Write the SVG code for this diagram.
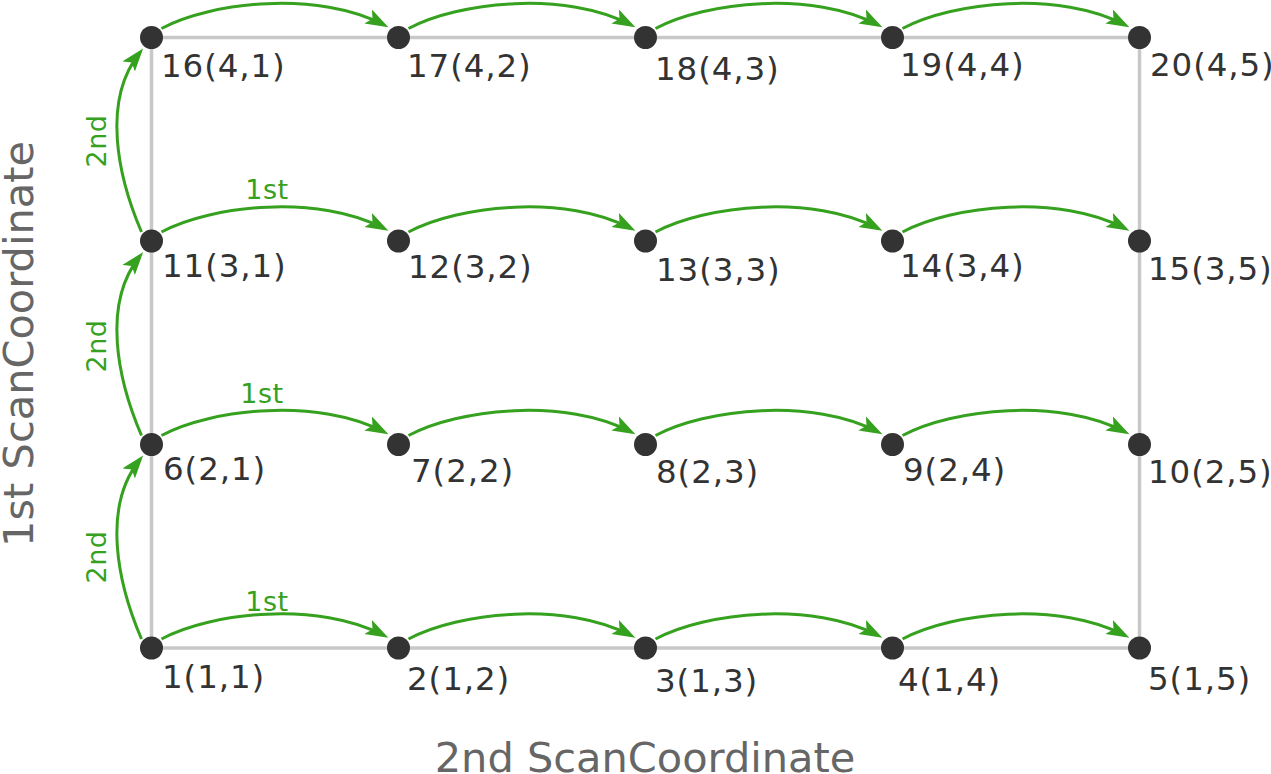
<svg xmlns="http://www.w3.org/2000/svg" width="1271" height="774" viewBox="0 0 1271 774">
<style>
.grid{fill:none;stroke:#c8c8c8;stroke-width:3.5}
.node circle{fill:#333}
.node text{font-family:"DejaVu Sans",sans-serif;font-size:32.5px;fill:#333;letter-spacing:0.9px}
.arc{fill:none;stroke:#36a11f;stroke-width:3;marker-end:url(#ah)}
.lbl{font-family:"DejaVu Sans",sans-serif;font-size:27px;fill:#36a11f;text-anchor:middle;letter-spacing:0.5px}
.axis{font-family:"DejaVu Sans",sans-serif;font-size:41.5px;fill:#666;text-anchor:middle}
</style>
<defs>
<marker id="ah" markerUnits="userSpaceOnUse" markerWidth="26" markerHeight="18" refX="18" refY="8" orient="auto">
<path d="M0,0 L23,8 L0,16 L5,8 z" fill="#36a11f"/>
</marker>
</defs>
<rect class="grid" x="151.5" y="37.5" width="988" height="610.5"/>
<g id="connectors">
<path class="arc" d="M161.5,639 C211.5,612 319.5,601 384,635.5"/>
<path class="arc" d="M408.5,639 C458.5,612 566.5,601 631,635.5"/>
<path class="arc" d="M655.5,639 C705.5,612 813.5,601 878,635.5"/>
<path class="arc" d="M902.5,639 C952.5,612 1060.5,601 1125,635.5"/>
<path class="arc" d="M161.5,435.5 C211.5,408.5 319.5,397.5 384,432"/>
<path class="arc" d="M408.5,435.5 C458.5,408.5 566.5,397.5 631,432"/>
<path class="arc" d="M655.5,435.5 C705.5,408.5 813.5,397.5 878,432"/>
<path class="arc" d="M902.5,435.5 C952.5,408.5 1060.5,397.5 1125,432"/>
<path class="arc" d="M161.5,232 C211.5,205 319.5,194 384,228.5"/>
<path class="arc" d="M408.5,232 C458.5,205 566.5,194 631,228.5"/>
<path class="arc" d="M655.5,232 C705.5,205 813.5,194 878,228.5"/>
<path class="arc" d="M902.5,232 C952.5,205 1060.5,194 1125,228.5"/>
<path class="arc" d="M161.5,28.5 C211.5,1.5 319.5,-9.5 384,25"/>
<path class="arc" d="M408.5,28.5 C458.5,1.5 566.5,-9.5 631,25"/>
<path class="arc" d="M655.5,28.5 C705.5,1.5 813.5,-9.5 878,25"/>
<path class="arc" d="M902.5,28.5 C952.5,1.5 1060.5,-9.5 1125,25"/>
<path class="arc" d="M141.5,639 C117.5,583 101.5,507 140,459.5"/>
<path class="arc" d="M141.5,435.5 C117.5,379.5 101.5,303.5 140,256"/>
<path class="arc" d="M141.5,232 C117.5,176 101.5,100 140,52.5"/>
<text class="lbl" x="267" y="610.7">1st</text>
<text class="lbl" x="262" y="402.7">1st</text>
<text class="lbl" x="267" y="199.3">1st</text>
<text class="lbl" transform="translate(106,557) rotate(-90)">2nd</text>
<text class="lbl" transform="translate(106,346) rotate(-90)">2nd</text>
<text class="lbl" transform="translate(106,141) rotate(-90)">2nd</text>
</g>
<g id="n1" class="node"><circle cx="151.5" cy="648" r="11.5"/><text x="162" y="688">1(1,1)</text></g>
<g id="n2" class="node"><circle cx="398.5" cy="648" r="11.5"/><text x="407" y="690">2(1,2)</text></g>
<g id="n3" class="node"><circle cx="645.5" cy="648" r="11.5"/><text x="655" y="692">3(1,3)</text></g>
<g id="n4" class="node"><circle cx="892.5" cy="648" r="11.5"/><text x="898" y="691">4(1,4)</text></g>
<g id="n5" class="node"><circle cx="1139.5" cy="648" r="11.5"/><text x="1148" y="690">5(1,5)</text></g>
<g id="n6" class="node"><circle cx="151.5" cy="444.5" r="11.5"/><text x="163" y="480">6(2,1)</text></g>
<g id="n7" class="node"><circle cx="398.5" cy="444.5" r="11.5"/><text x="411" y="482">7(2,2)</text></g>
<g id="n8" class="node"><circle cx="645.5" cy="444.5" r="11.5"/><text x="656" y="483">8(2,3)</text></g>
<g id="n9" class="node"><circle cx="892.5" cy="444.5" r="11.5"/><text x="903" y="481">9(2,4)</text></g>
<g id="n10" class="node"><circle cx="1139.5" cy="444.5" r="11.5"/><text x="1148" y="483">10(2,5)</text></g>
<g id="n11" class="node"><circle cx="151.5" cy="241" r="11.5"/><text x="162" y="277">11(3,1)</text></g>
<g id="n12" class="node"><circle cx="398.5" cy="241" r="11.5"/><text x="408" y="278">12(3,2)</text></g>
<g id="n13" class="node"><circle cx="645.5" cy="241" r="11.5"/><text x="656" y="281">13(3,3)</text></g>
<g id="n14" class="node"><circle cx="892.5" cy="241" r="11.5"/><text x="900" y="277">14(3,4)</text></g>
<g id="n15" class="node"><circle cx="1139.5" cy="241" r="11.5"/><text x="1148" y="280">15(3,5)</text></g>
<g id="n16" class="node"><circle cx="151.5" cy="37.5" r="11.5"/><text x="161" y="77">16(4,1)</text></g>
<g id="n17" class="node"><circle cx="398.5" cy="37.5" r="11.5"/><text x="407" y="77">17(4,2)</text></g>
<g id="n18" class="node"><circle cx="645.5" cy="37.5" r="11.5"/><text x="655" y="80">18(4,3)</text></g>
<g id="n19" class="node"><circle cx="892.5" cy="37.5" r="11.5"/><text x="900" y="76">19(4,4)</text></g>
<g id="n20" class="node"><circle cx="1139.5" cy="37.5" r="11.5"/><text x="1150" y="76">20(4,5)</text></g>
<text class="axis" transform="translate(33,344) rotate(-90)">1st ScanCoordinate</text>
<text class="axis" x="645" y="772">2nd ScanCoordinate</text>
</svg>
